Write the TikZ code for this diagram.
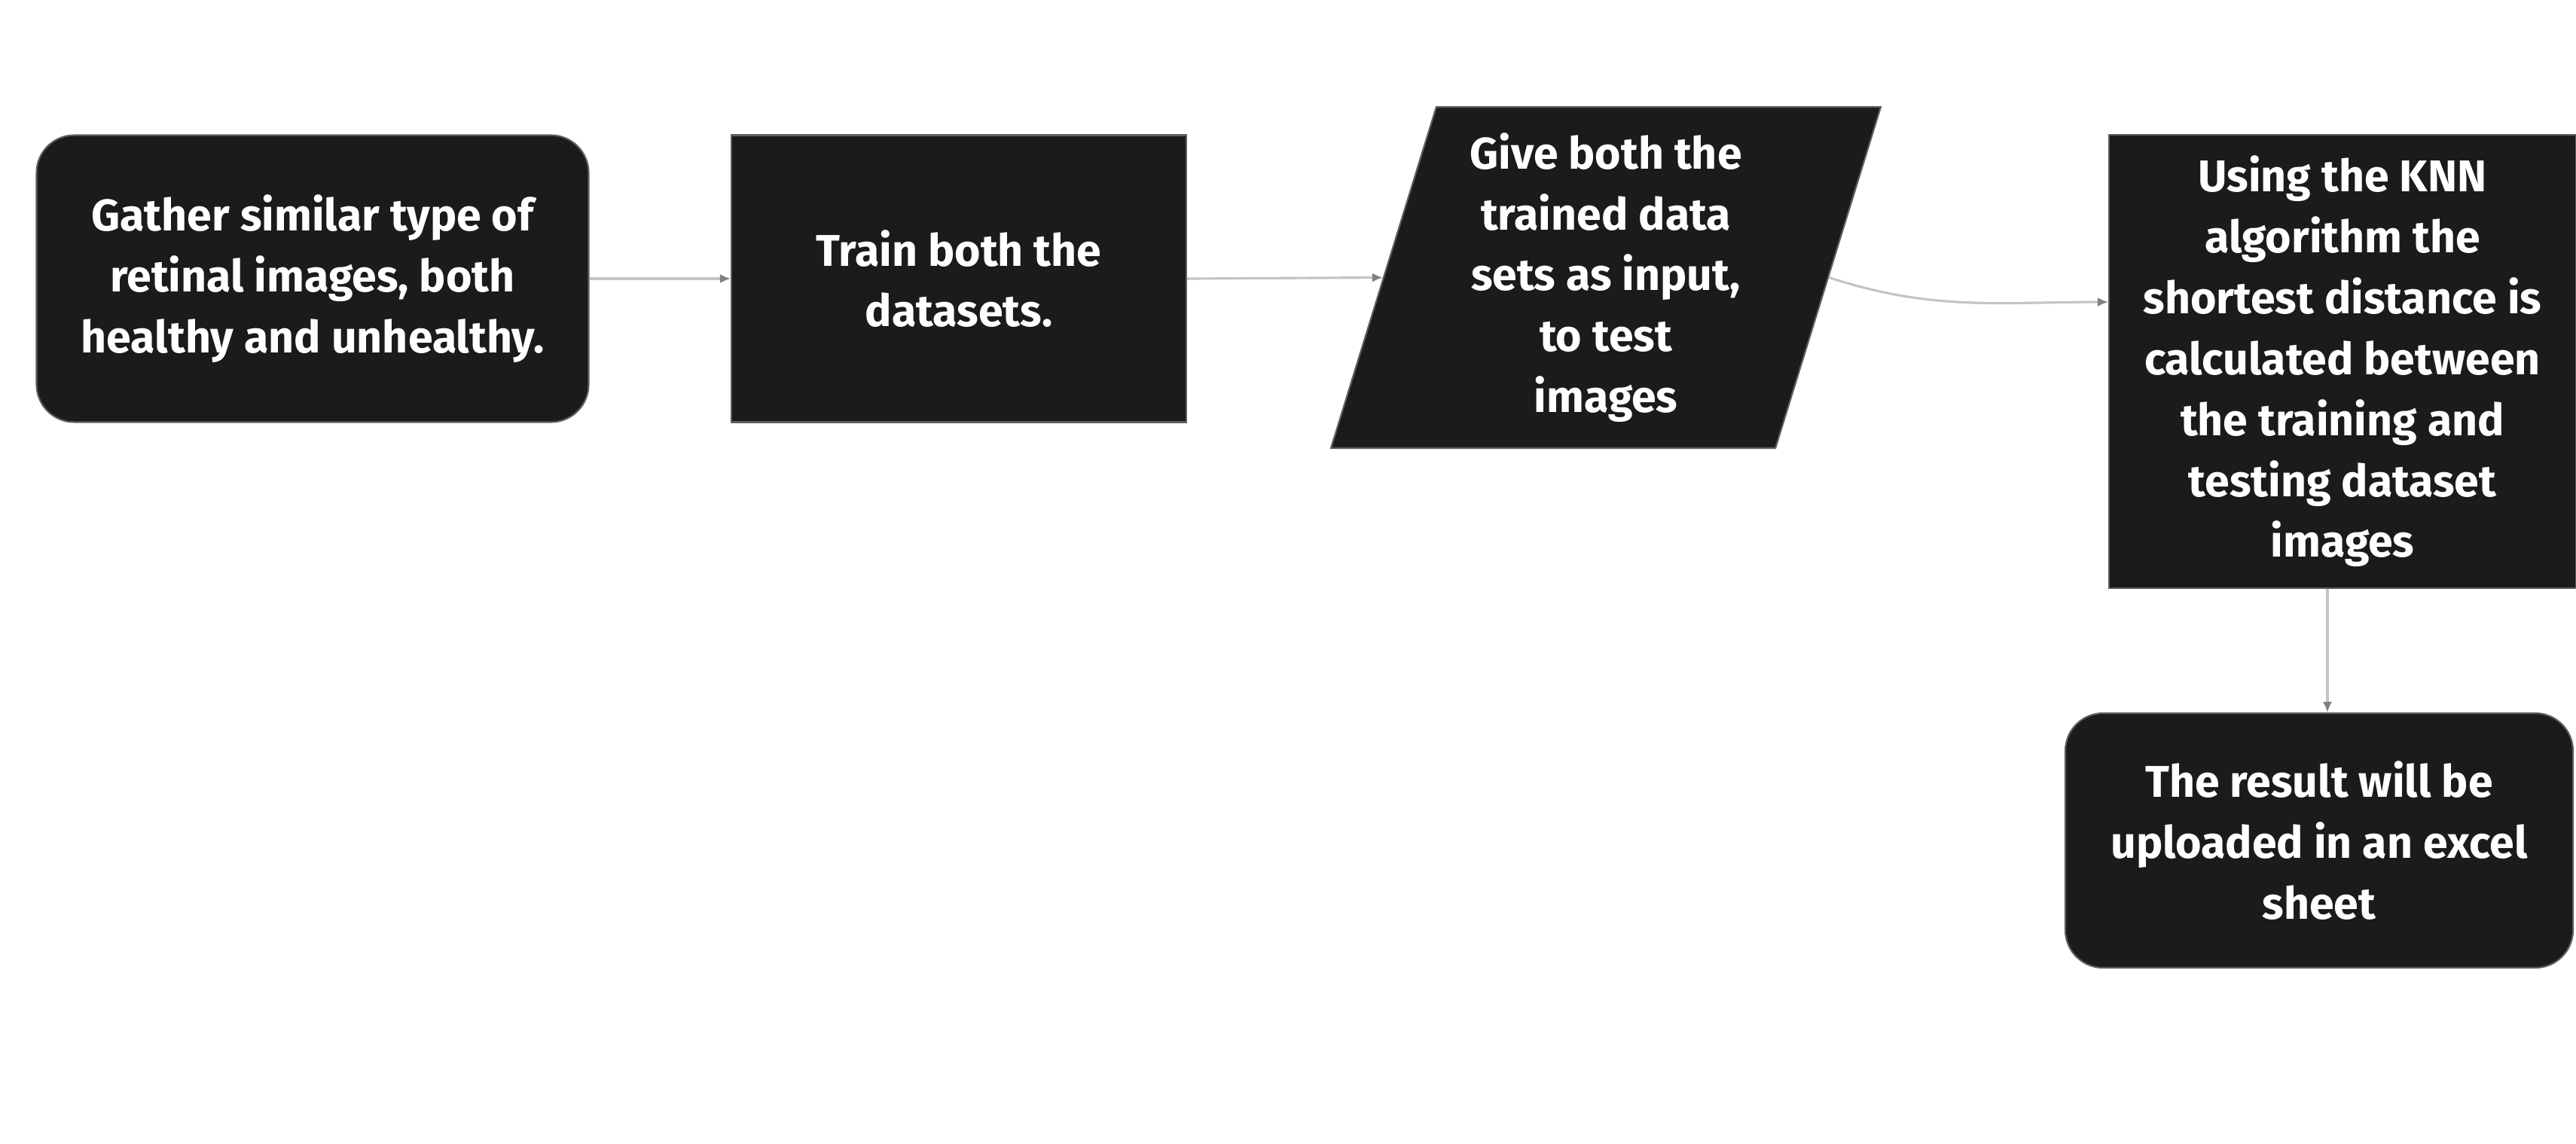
\documentclass[tikz,border=0pt]{standalone}
\usepackage{fontspec}
\setmainfont{Fira Sans}
\usetikzlibrary{shapes.geometric}
\usetikzlibrary{arrows.meta}
\definecolor{boxfill}{HTML}{1B1B1B}
\definecolor{boxline}{HTML}{5E5E5E}
\definecolor{linkgray}{HTML}{C4C4C4}
\tikzset{stepbox/.style={rectangle, draw=boxline, line width=0.6pt, fill=boxfill, text=white, font=\bfseries\fontsize{16.8}{23}\selectfont, align=center, inner sep=0pt}}
\tikzset{roundbox/.style={stepbox, rounded corners=0.5cm}}
\tikzset{inbox/.style={stepbox, trapezium, trapezium left angle=70, trapezium right angle=110, trapezium stretches body}}
\tikzset{link/.style={draw=linkgray, line width=0.9pt, -{Latex[length=4pt,width=3.5pt,color=gray]}}}

\begin{document}
\begin{tikzpicture}

\useasboundingbox (0,0) rectangle (34.20,-15.18);

\node[roundbox, minimum width=7.33cm, minimum height=3.81cm] (gather) at (4.15,-3.70) {Gather similar type of\\retinal images, both\\healthy and unhealthy.};
\node[stepbox, minimum width=6.04cm, minimum height=3.81cm] (train) at (12.73,-3.70) {Train both the\\datasets.};
\node[inbox, minimum width=7.30cm, minimum height=4.53cm] (give) at (21.32,-3.685) {Give both the\\trained data\\sets as input,\\to test\\images};
\node[stepbox, minimum width=6.20cm, minimum height=6.02cm] (knn) at (31.10,-4.80) {Using the KNN\\algorithm the\\shortest distance is\\calculated between\\the training and\\testing dataset\\images};
\node[roundbox, minimum width=6.74cm, minimum height=3.38cm] (result) at (30.79,-11.16) {The result will be\\uploaded in an excel\\sheet};

\draw[link] (gather.east) -- (train.west);
\draw[link] (train.east) -- (give.west);
\draw[link] (give.east) to[out=-18, in=180] ([yshift=0.79cm]knn.west);
\draw[link] ([xshift=-0.2cm]knn.south) -- ([xshift=-0.2cm]knn.south |- result.north);

\end{tikzpicture}
\end{document}
